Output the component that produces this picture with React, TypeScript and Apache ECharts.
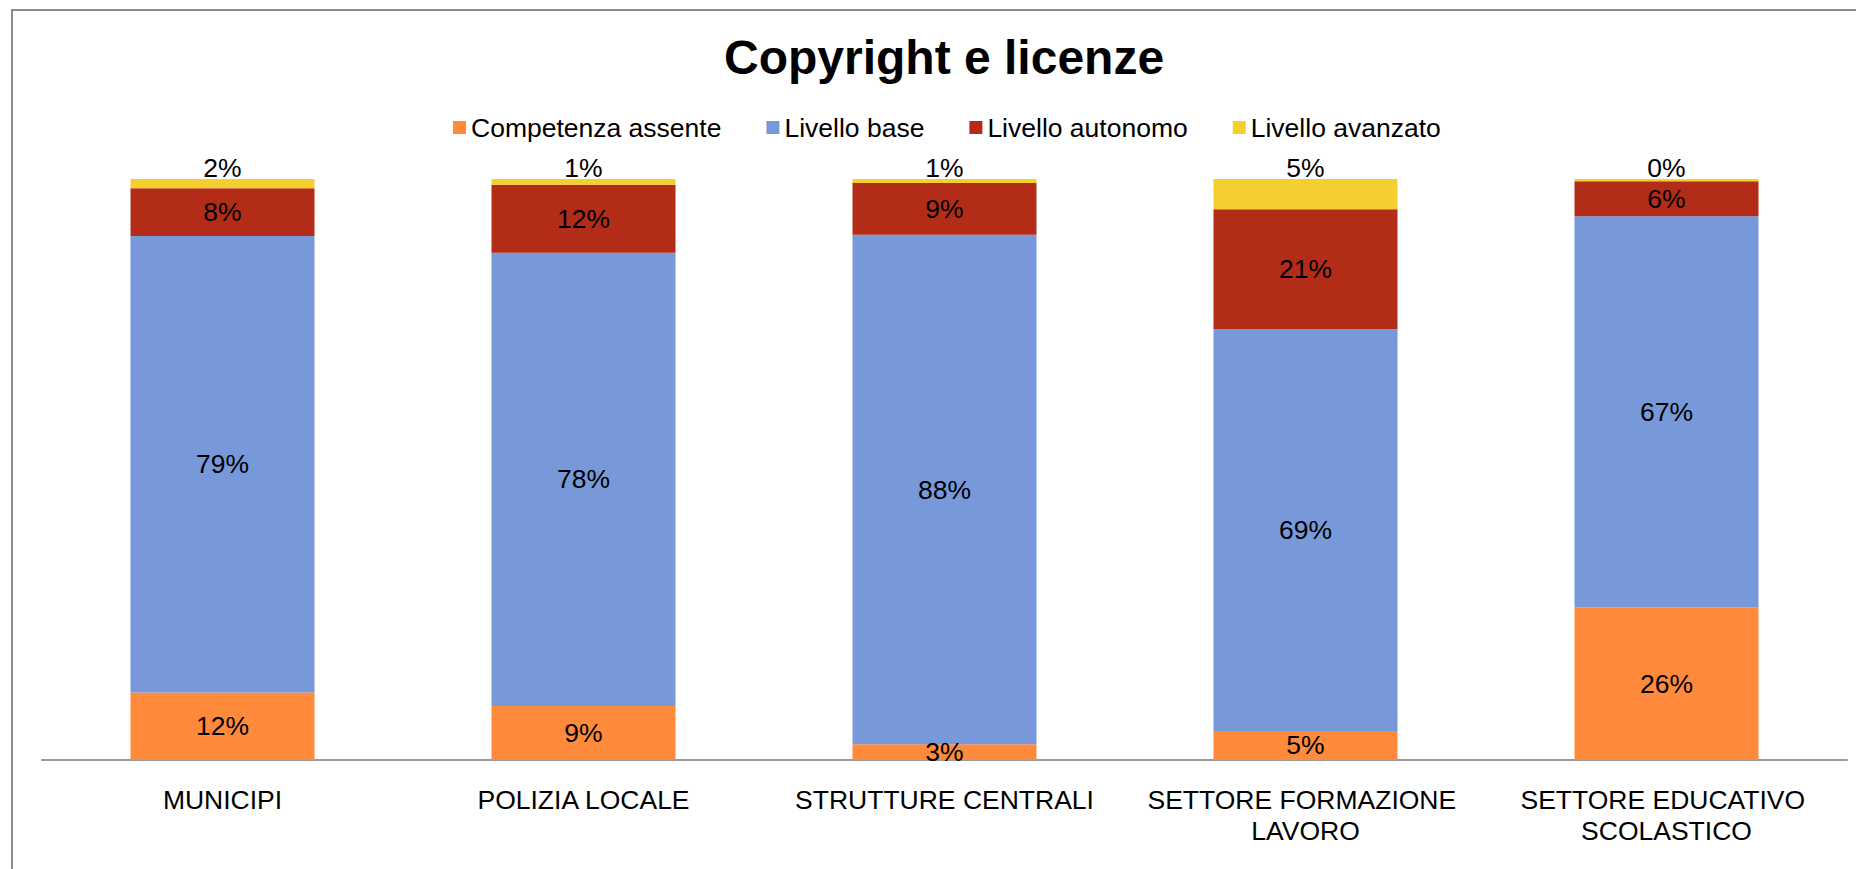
import React, { useEffect, useRef } from "react";
import * as echarts from "echarts";

const TITLE = "Copyright e licenze";
const categories = [
  "MUNICIPI",
  "POLIZIA LOCALE",
  "STRUTTURE CENTRALI",
  "SETTORE FORMAZIONE LAVORO",
  "SETTORE EDUCATIVO SCOLASTICO",
];
const seriesNames = ["Competenza assente", "Livello base", "Livello autonomo", "Livello avanzato"];
const competenzaAssente = [11.6, 9.3, 2.7, 5.0, 26.3];
const livelloBase = [78.6, 78.0, 87.7, 69.2, 67.3];
const livelloAutonomo = [8.2, 11.7, 8.9, 20.6, 6.0];
const livelloAvanzato = [1.6, 1.0, 0.7, 5.2, 0.4];
const colors = ["#FF8A3B", "#7799D9", "#B32C17", "#F5CE30"];

const FONT = "'Liberation Sans', Arial, sans-serif";

export default function App() {
  const ref = useRef<HTMLDivElement>(null);
  useEffect(() => {
    if (!ref.current) return;
    const chart = echarts.init(ref.current, null, { renderer: "svg" });
    const values = [competenzaAssente, livelloBase, livelloAutonomo, livelloAvanzato];
    const series = values.map((data, i) => ({
      name: seriesNames[i],
      type: "bar",
      stack: "total",
      barWidth: 184,
      data,
      itemStyle: { color: colors[i] },
      label: {
        show: true,
        position: i === 3 ? "top" : "inside",
        distance: i === 3 ? -2 : 5,
        color: "#000",
        fontSize: 26.5,
        fontFamily: FONT,
        formatter: (p: any) => Math.round(p.value) + "%",
      },
    }));
    chart.setOption({
      animation: false,
      backgroundColor: "#fff",
      title: {
        text: TITLE,
        left: 724,
        top: 33,
        padding: 0,
        textStyle: { fontSize: 48, fontWeight: "bold", color: "#000", fontFamily: FONT },
      },
      legend: {
        left: 453,
        top: 114,
        padding: 0,
        itemWidth: 13,
        itemHeight: 13,
        itemGap: 45,
        icon: "rect",
        data: seriesNames,
        textStyle: { fontSize: 26.5, color: "#000", fontFamily: FONT },
      },
      graphic: [
        {
          type: "rect",
          shape: { x: 12, y: 10, width: 2000, height: 1000 },
          style: { fill: "none", stroke: "#8c8c8c", lineWidth: 2 },
          silent: true,
        },
      ],
      grid: { left: 42, right: 9, top: 179, bottom: 109, containLabel: false },
      xAxis: {
        type: "category",
        data: categories,
        axisLine: { show: true, lineStyle: { color: "#9b9b9b", width: 2 } },
        axisTick: { show: false },
        axisLabel: {
          color: "#000",
          fontSize: 26.5,
          fontFamily: FONT,
          margin: 24,
          lineHeight: 31,
          width: 330,
          overflow: "break",
          interval: 0,
        },
      },
      yAxis: { type: "value", min: 0, max: 100, show: false },
      series,
    });
    return () => chart.dispose();
  }, []);
  return (
    <div
      ref={ref}
      style={{ position: "absolute", left: 0, top: 0, width: 1856, height: 869, background: "#fff" }}
    />
  );
}
